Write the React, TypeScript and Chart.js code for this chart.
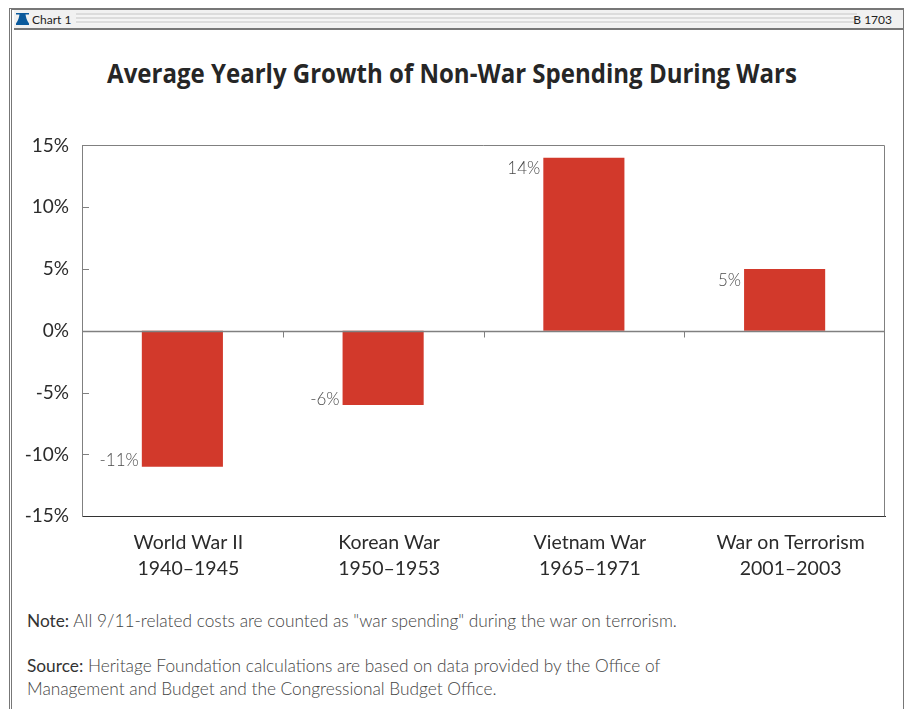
import React, { useEffect, useRef } from "react";
import { Chart, registerables, type Plugin } from "chart.js";

Chart.register(...registerables);

const warNames = ["World War II", "Korean War", "Vietnam War", "War on Terrorism"];
const warYears = ["1940–1945", "1950–1953", "1965–1971", "2001–2003"];
const growth = [-11, -6, 14, 5];
const yTicks = [-15, -10, -5, 0, 5, 10, 15];

const titleText = "Average Yearly Growth of Non-War Spending During Wars";
const chartTag = "Chart 1";
const bulletinTag = "B 1703";
const noteLabel = "Note:";
const noteText = " All 9/11-related costs are counted as \"war spending\" during the war on terrorism.";
const sourceLabel = "Source:";
const sourceLines = [
  " Heritage Foundation calculations are based on data provided by the Office of",
  "Management and Budget and the Congressional Budget Office.",
];

const BODY_FONT = "Lato, 'Open Sans', sans-serif";
const HEAD_FONT = "'Open Sans', 'Noto Sans', sans-serif";

// Draws the value beside each bar, the plot outline and the short inward ticks.
const annotations: Plugin<"bar"> = {
  id: "annotations",
  afterDatasetsDraw(chart) {
    const { ctx, scales, chartArea } = chart;
    const meta = chart.getDatasetMeta(0);
    ctx.save();
    ctx.font = `300 17px ${BODY_FONT}`;
    ctx.fillStyle = "#4a4a4a";
    ctx.textAlign = "right";
    ctx.textBaseline = "middle";
    meta.data.forEach((bar, i) => {
      const el = bar as unknown as { x: number; y: number; width: number };
      const v = growth[i];
      const y = v < 0 ? el.y - 6 : el.y + 11;
      ctx.fillText(`${v}%`, el.x - el.width / 2 - 3, y);
    });
    ctx.strokeStyle = "#808080";
    ctx.lineWidth = 1;
    const right = Math.round(chartArea.right) - 0.5;
    const top = Math.round(chartArea.top) + 0.5;
    ctx.beginPath();
    ctx.moveTo(chartArea.left, top);
    ctx.lineTo(right, top);
    ctx.lineTo(right, chartArea.bottom);
    ctx.stroke();
    yTicks.forEach((t) => {
      if (t === 15 || t === -15 || t === 0) return;
      const y = Math.round(scales.y.getPixelForValue(t)) + 0.5;
      ctx.beginPath();
      ctx.moveTo(chartArea.left + 1, y);
      ctx.lineTo(chartArea.left + 7, y);
      ctx.stroke();
    });
    const zero = Math.round(scales.y.getPixelForValue(0)) + 0.5;
    for (let i = 1; i < warNames.length; i++) {
      const x = Math.round((scales.x.getPixelForValue(i - 1) + scales.x.getPixelForValue(i)) / 2) + 0.5;
      ctx.beginPath();
      ctx.moveTo(x, zero);
      ctx.lineTo(x, zero + 6);
      ctx.stroke();
    }
    ctx.lineWidth = 1.5;
    ctx.beginPath();
    ctx.moveTo(chartArea.left, zero);
    ctx.lineTo(chartArea.right, zero);
    ctx.stroke();
    ctx.restore();
  },
};

const frameStyle: React.CSSProperties = {
  position: "absolute",
  left: 9,
  top: 8,
  width: 895,
  height: 701,
  boxSizing: "border-box",
  borderTop: "2px solid #777",
  borderLeft: "3px double #777",
  borderRight: "1px solid #777",
  background: "#fff",
};

export default function App() {
  const ref = useRef<HTMLCanvasElement>(null);

  useEffect(() => {
    document.body.style.margin = "0";
    const chart = new Chart(ref.current!, {
      type: "bar",
      data: {
        labels: warNames.map((n, i) => [n, warYears[i]]),
        datasets: [
          {
            data: growth,
            backgroundColor: "#D2392B",
            borderWidth: 0,
            barPercentage: 0.404,
            categoryPercentage: 1,
          },
        ],
      },
      options: {
        animation: false,
        responsive: false,
        layout: { padding: { left: 0, right: 21, top: 0, bottom: 0 } },
        plugins: { legend: { display: false }, tooltip: { enabled: false }, title: { display: false } },
        scales: {
          x: {
            grid: { display: false },
            border: { color: "#333333", width: 1 },
            ticks: {
              color: "#2b2b2b",
              font: { family: BODY_FONT, size: 19.5, lineHeight: 1.3 },
              padding: 6,
              labelOffset: 6,
              maxRotation: 0,
            },
          },
          y: {
            min: -15,
            max: 15,
            position: "left",
            afterFit(scale) {
              scale.width = 82;
            },
            grid: { display: false },
            border: { color: "#808080", width: 1 },
            ticks: {
              stepSize: 5,
              color: "#2b2b2b",
              padding: 5,
              font: { family: BODY_FONT, size: 19 },
              callback: (v) => `${v}%`,
            },
          },
        },
      },
      plugins: [annotations],
    });
    return () => chart.destroy();
  }, []);

  return (
    <div style={{ position: "relative", width: 906, height: 709, overflow: "hidden", background: "#fff" }}>
      <div style={frameStyle} />
      <div
        style={{
          position: "absolute",
          left: 14,
          top: 10,
          width: 889,
          height: 20,
          boxSizing: "border-box",
          background: "#f1f1f1",
          borderBottom: "2px solid #777",
          font: `12px ${BODY_FONT}`,
          color: "#222",
        }}
      >
        <div
          style={{
            position: "absolute",
            left: 62,
            right: 46,
            top: 3,
            height: 11,
            background: "repeating-linear-gradient(#dcdcdc 0 2px, #f4f4f4 2px 4px)",
          }}
        />
        <svg style={{ position: "absolute", left: 2, top: 3 }} width="13" height="13" viewBox="0 0 13 13" aria-hidden="true">
          <path d="M0 0H13V1.5H9.5C10 4 10.5 7 13 10.5V12H0V10.5C2.5 7 3 4 3.5 1.5H0Z" fill="#0b5a9c" />
        </svg>
        <span style={{ position: "absolute", left: 18, top: 2 }}>{chartTag}</span>
        <span style={{ position: "absolute", right: 11, top: 2 }}>{bulletinTag}</span>
      </div>
      <h1
        style={{
          position: "absolute",
          left: -1,
          width: 906,
          top: 54,
          margin: 0,
          textAlign: "center",
          font: `700 27px ${HEAD_FONT}`,
          color: "#262626",
          whiteSpace: "nowrap",
          transform: "scaleX(0.89)",
        }}
      >
        {titleText}
      </h1>
      <div style={{ position: "absolute", left: 0, top: 129 }}>
        <canvas ref={ref} width={906} height={458} style={{ display: "block" }} />
      </div>
      <div style={{ position: "absolute", left: 27, top: 610, font: `300 17.3px ${BODY_FONT}`, color: "#444", whiteSpace: "nowrap" }}>
        <span style={{ fontWeight: 400, color: "#333" }}>{noteLabel}</span>
        {noteText}
      </div>
      <div style={{ position: "absolute", left: 27, top: 654, font: `300 17.3px/23px ${BODY_FONT}`, color: "#444", whiteSpace: "nowrap" }}>
        <span style={{ fontWeight: 400, color: "#333" }}>{sourceLabel}</span>
        {sourceLines[0]}
        <br />
        {sourceLines[1]}
      </div>
    </div>
  );
}
